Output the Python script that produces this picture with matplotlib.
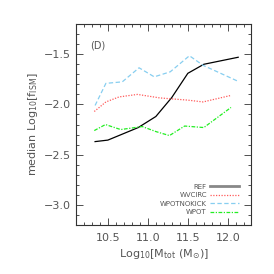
import matplotlib
matplotlib.use('Agg')
import matplotlib.pyplot as plt
from matplotlib.ticker import MultipleLocator

# median Log10 f_ISM vs halo mass, panel (D)
ref_x = [10.34, 10.50, 10.88, 11.10, 11.30, 11.50, 11.70, 12.13]
ref_y = [-2.37, -2.355, -2.23, -2.12, -1.93, -1.69, -1.60, -1.53]

wvcirc_x = [10.33, 10.475, 10.64, 10.87, 11.15, 11.50, 11.69, 12.04]
wvcirc_y = [-2.07, -1.975, -1.925, -1.90, -1.935, -1.957, -1.975, -1.91]

wpotnokick_x = [10.34, 10.475, 10.68, 10.89, 11.08, 11.28, 11.52, 11.69, 12.13]
wpotnokick_y = [-2.01, -1.79, -1.775, -1.635, -1.725, -1.675, -1.515, -1.61, -1.77]

wpot_x = [10.33, 10.47, 10.66, 10.93, 11.10, 11.27, 11.46, 11.70, 12.04]
wpot_y = [-2.26, -2.20, -2.25, -2.22, -2.27, -2.31, -2.215, -2.23, -2.03]

txt = '#555555'
plt.rcParams['font.family'] = 'DejaVu Sans'

fig = plt.figure(figsize=(2.74, 2.74), dpi=100)
ax = fig.add_axes([0.277, 0.179, 0.639, 0.733])

ax.plot(ref_x, ref_y, color='black', lw=0.9, label='REF')
ax.plot(wvcirc_x, wvcirc_y, color='#ff5a5a', lw=0.9, ls=(0, (1, 1.2)), label='WVCIRC')
ax.plot(wpotnokick_x, wpotnokick_y, color='#87cef0', lw=0.9, ls=(0, (3.5, 2)), label='WPOTNOKICK')
ax.plot(wpot_x, wpot_y, color='#22ee22', lw=0.9, ls=(0, (3, 1.2, 1, 1.2)), label='WPOT')

ax.set_xlim(10.1, 12.29)
ax.set_ylim(-3.2, -1.2)
ax.xaxis.set_major_locator(MultipleLocator(0.5))
ax.xaxis.set_minor_locator(MultipleLocator(0.1))
ax.yaxis.set_major_locator(MultipleLocator(0.5))
ax.yaxis.set_minor_locator(MultipleLocator(0.1))
ax.tick_params(which='both', direction='in', top=True, right=True,
               colors='#333333', labelcolor=txt, labelsize=8, width=0.6)
ax.tick_params(which='major', length=5)
ax.tick_params(which='minor', length=2.5)
ax.tick_params(axis='x', pad=6)
for s in ax.spines.values():
    s.set_linewidth(0.8)
    s.set_color('#333333')

ax.set_xlabel(r'Log$_{10}$[M$_{\rm tot}$ (M$_{\odot}$)]', fontsize=8, color=txt, labelpad=3)
ax.set_ylabel(r'median Log$_{10}$[f$_{\rm ISM}$]', fontsize=8, color=txt, labelpad=3)

ax.text(0.08, 0.88, '(D)', transform=ax.transAxes, fontsize=7, color=txt)

leg = ax.legend(loc='lower right', bbox_to_anchor=(0.95, 0.035), frameon=False,
                markerfirst=False, fontsize=5, handlelength=4.2,
                labelspacing=0.35, handletextpad=0.5, borderaxespad=0)
for t in leg.get_texts():
    t.set_color(txt)
leg.get_lines()[0].set_linewidth(2)
leg.get_lines()[0].set_color('#888888')

fig.savefig('out.png', dpi=100)
